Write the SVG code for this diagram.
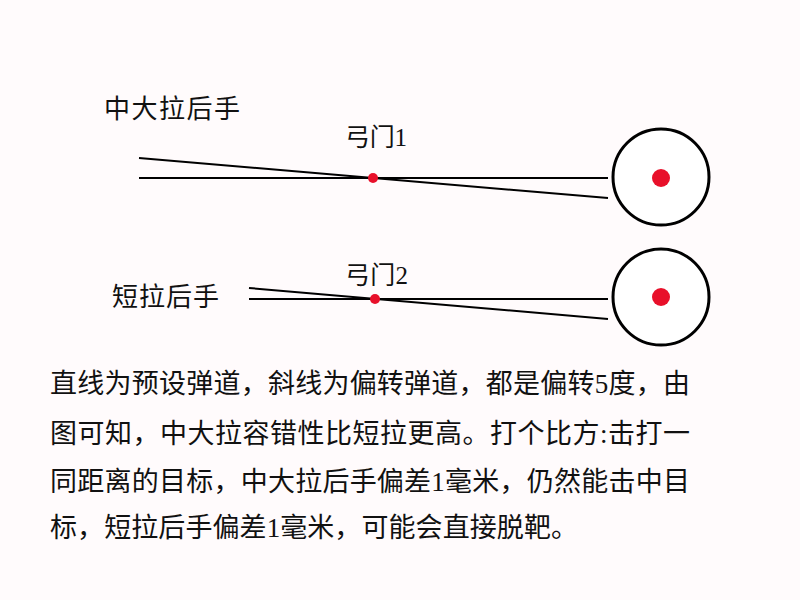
<svg xmlns="http://www.w3.org/2000/svg" width="800" height="600" viewBox="0 0 800 600">
<style>
.t{font-family:"Liberation Serif","Noto Sans CJK SC",serif;fill:#111;}
.ln{stroke:#000;stroke-width:2;fill:none;}
.tg{stroke:#000;stroke-width:3;fill:#fff;}
.dot{fill:#e8102a;}
</style>
<rect width="800" height="600" fill="#fffbfc"/>
<g id="connectors">
<line class="ln" x1="139" y1="178" x2="608" y2="178"/>
<line class="ln" x1="139" y1="158" x2="608" y2="198"/>
<line class="ln" x1="249" y1="299" x2="608" y2="299"/>
<line class="ln" x1="249" y1="288" x2="608" y2="319"/>
</g>
<g id="target1">
<circle class="tg" cx="661" cy="177" r="48"/>
<circle class="dot" cx="661" cy="178" r="9"/>
</g>
<g id="target2">
<circle class="tg" cx="661" cy="297" r="48"/>
<circle class="dot" cx="661" cy="297" r="9"/>
</g>
<g id="gate1">
<circle class="dot" cx="373" cy="178" r="5"/>
<text class="t" x="345" y="146" font-size="25" textLength="62">弓门1</text>
</g>
<g id="gate2">
<circle class="dot" cx="375" cy="299" r="5"/>
<text class="t" x="345" y="284" font-size="25" textLength="63">弓门2</text>
</g>
<g id="label1">
<text class="t" x="104" y="118" font-size="26" textLength="136">中大拉后手</text>
</g>
<g id="label2">
<text class="t" x="112" y="306" font-size="26" textLength="107">短拉后手</text>
</g>
<g id="paragraph">
<text class="t" x="50" y="393" font-size="27" textLength="640">直线为预设弹道，斜线为偏转弹道，都是偏转5度，由</text>
<text class="t" x="50" y="443" font-size="27" textLength="640">图可知，中大拉容错性比短拉更高。打个比方:击打一</text>
<text class="t" x="50" y="491" font-size="27" textLength="640">同距离的目标，中大拉后手偏差1毫米，仍然能击中目</text>
<text class="t" x="50" y="537" font-size="27" textLength="528">标，短拉后手偏差1毫米，可能会直接脱靶。</text>
</g>
</svg>
